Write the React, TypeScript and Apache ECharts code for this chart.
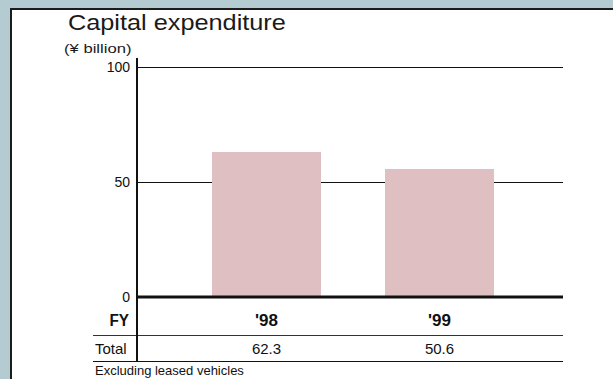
import React, { useEffect, useRef } from "react";
import * as echarts from "echarts";

const title = "Capital expenditure";
const unitLabel = "(¥ billion)";
const categories = ["'98", "'99"];
const barValues = [63.0, 55.6];
const totalLabels = ["62.3", "50.6"];
const yTicks = [0, 50, 100];
const footnote = "Excluding leased vehicles";

const sans = "'Liberation Sans', Arial, Helvetica, sans-serif";

export default function App() {
  const ref = useRef<HTMLDivElement>(null);
  useEffect(() => {
    if (!ref.current) return;
    const chart = echarts.init(ref.current, undefined, { renderer: "svg" });
    const axisLeft = 137;
    const axisRight = 563;
    chart.setOption({
      animation: false,
      backgroundColor: "#b4ccd1",
      grid: [
        { left: axisLeft, right: 613 - axisRight, top: 67, bottom: 82 },
        { left: 180, right: 87, top: 67, bottom: 82 },
      ],
      xAxis: [
        { gridIndex: 0, type: "value", show: false, min: 0, max: 1 },
        {
          gridIndex: 1,
          type: "category",
          data: categories,
          axisLine: { show: false },
          axisTick: { show: false },
          axisLabel: { margin: 15, fontFamily: sans, fontWeight: "bold", fontSize: 17, color: "#111" },
        },
        {
          gridIndex: 1,
          type: "category",
          data: totalLabels,
          position: "bottom",
          offset: 29,
          axisLine: { show: false },
          axisTick: { show: false },
          axisLabel: { margin: 15, fontFamily: sans, fontSize: 15, color: "#111" },
        },
      ],
      yAxis: [
        {
          gridIndex: 0,
          type: "value",
          min: yTicks[0],
          max: yTicks[yTicks.length - 1],
          interval: yTicks[1] - yTicks[0],
          axisLine: { show: false },
          axisTick: { show: false },
          axisLabel: { margin: 7, fontFamily: sans, fontSize: 14, color: "#111" },
          splitLine: { show: true, lineStyle: { color: "#111", width: 1 } },
        },
        {
          gridIndex: 1,
          type: "value",
          min: yTicks[0],
          max: yTicks[yTicks.length - 1],
          show: false,
        },
      ],
      series: [
        {
          type: "bar",
          xAxisIndex: 1,
          yAxisIndex: 1,
          data: barValues,
          barWidth: 109,
          itemStyle: { color: "#e0bfc3" },
        },
      ],
      graphic: [
        {
          type: "rect",
          shape: { x: 11, y: 9, width: 640, height: 400 },
          style: { fill: "#ffffff", stroke: "#1c1c1c", lineWidth: 2 },
          z: -10,
        },
        {
          type: "text",
          x: 68,
          y: 23,
          scaleX: 1.15,
          style: { text: title, font: `normal 22px ${sans}`, fill: "#1a1a1a", textVerticalAlign: "middle" },
        },
        {
          type: "text",
          x: 64,
          y: 48,
          scaleX: 1.28,
          style: { text: unitLabel, font: `normal 13px ${sans}`, fill: "#1a1a1a", textVerticalAlign: "middle" },
        },
        {
          type: "line",
          shape: { x1: axisLeft, y1: 58, x2: axisLeft, y2: 362 },
          style: { stroke: "#111", lineWidth: 2 },
          z: 100,
        },
        {
          type: "line",
          shape: { x1: axisLeft, y1: 297, x2: axisRight, y2: 297 },
          style: { stroke: "#111", lineWidth: 3 },
          z: 100,
        },
        {
          type: "text",
          x: 129,
          y: 320,
          scaleX: 0.9,
          style: { text: "FY", font: `bold 17px ${sans}`, fill: "#111", textAlign: "right", textVerticalAlign: "middle" },
        },
        {
          type: "line",
          shape: { x1: 93, y1: 335.5, x2: axisRight, y2: 335.5 },
          style: { stroke: "#333", lineWidth: 1 },
        },
        {
          type: "text",
          x: 95,
          y: 348.5,
          style: { text: "Total", font: `normal 15px ${sans}`, fill: "#111", textVerticalAlign: "middle" },
        },
        {
          type: "line",
          shape: { x1: 93, y1: 361.5, x2: axisRight, y2: 361.5 },
          style: { stroke: "#111", lineWidth: 1 },
        },
        {
          type: "text",
          x: 95,
          y: 370.5,
          style: { text: footnote, font: `normal 13px ${sans}`, fill: "#111", textVerticalAlign: "middle" },
        },
      ],
    });
    return () => chart.dispose();
  }, []);
  return (
    <div
      ref={ref}
      style={{ position: "fixed", left: 0, top: 0, width: 613, height: 379 }}
    />
  );
}
